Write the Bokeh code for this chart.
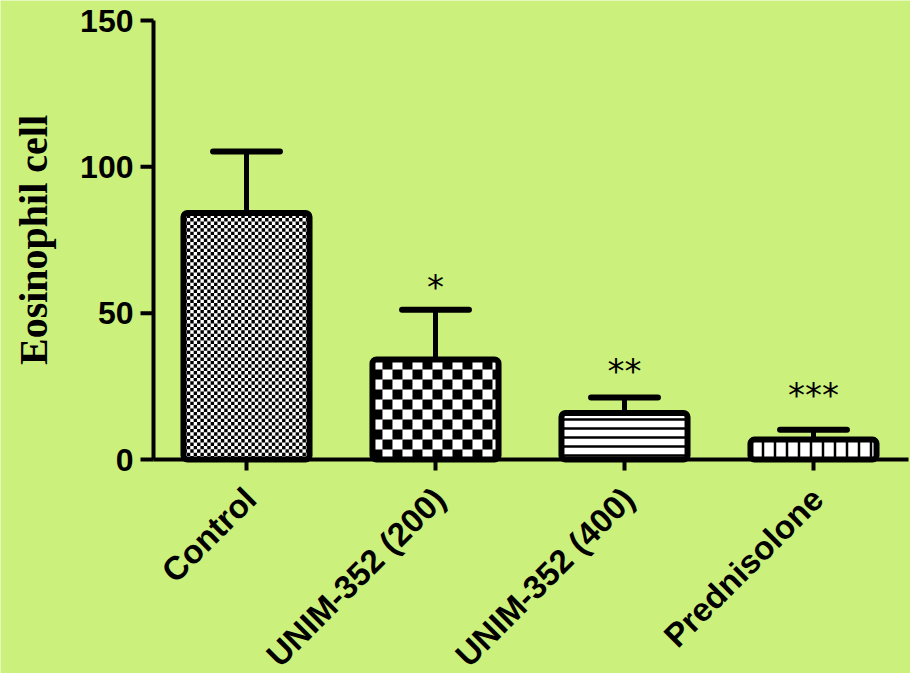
import math
from bokeh.plotting import figure
from bokeh.models import Range1d, LabelSet, ColumnDataSource
from bokeh.core.properties import value
from bokeh.embed import file_html
from bokeh.resources import INLINE

# ---- data ----
groups = ["Control", "UNIM-352 (200)", "UNIM-352 (400)", "Prednisolone"]
means = [84.2, 34.2, 15.9, 6.8]
errors = [21.0, 17.0, 5.3, 3.4]
star_labels = ["", "*", "**", "***"]
star_y = [0, 58.8, 30.4, 22.2]
y_ticks = [0, 50, 100, 150]
y_label = "Eosinophil cell"

BG = "#CCF07C"

# ---- layout (pixels of the 910x673 canvas) ----
FIG_W, FIG_H = 910, 673
AXIS_X_PX = 153        # y axis line column
AXIS_Y_PX = 459        # x axis line row (value 0)
TOP_PX = 20            # row of the top value
X_END_PX = 908         # right end of x axis line
FIRST_CAT_PX = 246     # centre of first category
CAT_STEP_PX = 189      # distance between categories
Y_TOP = 150

px_x = CAT_STEP_PX
px_y = (AXIS_Y_PX - TOP_PX) / Y_TOP
X0 = -FIRST_CAT_PX / px_x
X1 = X0 + FIG_W / px_x
Y1 = AXIS_Y_PX / px_y
Y0 = Y1 - FIG_H / px_y


def dx(px):
    return X0 + px / px_x


def dy_len(px):
    return px / px_y


p = figure(width=FIG_W, height=FIG_H, output_backend="svg", toolbar_location=None,
           x_range=Range1d(X0, X1), y_range=Range1d(Y0, Y1),
           min_border=0, background_fill_color=BG, border_fill_color=BG,
           outline_line_color=None)
p.grid.visible = False
p.xaxis.visible = False
p.yaxis.visible = False

xs = list(range(len(groups)))
tops = [m + e for m, e in zip(means, errors)]
BAR_W = 0.667
cap = 0.177

# error bars (behind bars)
p.segment(x0=xs, y0=means, x1=xs, y1=tops, line_color="black", line_width=5)
p.segment(x0=[x - cap for x in xs], y0=tops, x1=[x + cap for x in xs], y1=tops,
          line_color="black", line_width=6, line_cap="round")

# white bar bodies
p.vbar(x=xs, top=means, bottom=0, width=BAR_W, fill_color="white", line_color=None)

# fill patterns: checker cells (px size) or line hatches
patterns = [("checker", 3.4), ("checker", 10.0), ("horizontal_line", 9), ("vertical_line", 12)]

L, R, B, T = [], [], [], []
for i, x in enumerate(xs):
    kind, size = patterns[i]
    if kind != "checker":
        p.vbar(x=[x], top=[means[i]], bottom=0, width=BAR_W, fill_color="white",
               line_color=None, hatch_pattern=kind, hatch_scale=size,
               hatch_weight=2.5, hatch_color="black")
        continue
    left = x - BAR_W / 2
    right = x + BAR_W / 2
    cx = size / px_x
    cy = size / px_y
    ix = 0
    while left + ix * cx < right:
        iy = 0
        while iy * cy < means[i]:
            if (ix + iy) % 2 == 0:
                L.append(left + ix * cx)
                R.append(min(left + (ix + 1) * cx, right))
                B.append(iy * cy)
                T.append(min((iy + 1) * cy, means[i]))
            iy += 1
        ix += 1
p.quad(left=L, right=R, bottom=B, top=T, fill_color="black", line_color=None)

# bar outlines
p.vbar(x=xs, top=means, bottom=0, width=BAR_W, fill_color=None,
       line_color="black", line_width=6, line_join="round", border_radius=4)

# significance stars
sx = [x for x, s in zip(xs, star_labels) if s]
sy = [y for y, s in zip(star_y, star_labels) if s]
st = [s for s in star_labels if s]
p.text(x=sx, y=sy, text=st, text_font=value("DejaVu Sans"), text_font_size="34px",
       text_align="center", text_baseline="middle", text_color="black")

# ---- y axis ----
ax = dx(AXIS_X_PX)
p.segment(x0=[ax], y0=[0], x1=[ax], y1=[Y_TOP], line_color="black", line_width=4)
p.segment(x0=[ax] * len(y_ticks), y0=y_ticks, x1=[dx(AXIS_X_PX - 13)] * len(y_ticks),
          y1=y_ticks, line_color="black", line_width=4)
p.text(x=[dx(AXIS_X_PX - 13 - 7)] * len(y_ticks), y=y_ticks,
       text=[str(t) for t in y_ticks], text_font=value("Liberation Sans"),
       text_font_style="bold", text_font_size="32px", text_align="right",
       text_baseline="middle", text_color="black")
p.text(x=[dx(33)], y=[Y_TOP / 2], text=[y_label], angle=math.pi / 2,
       text_font=value("Liberation Serif"), text_font_style="bold",
       text_font_size="40px", text_align="center", text_baseline="middle",
       text_color="black")

# ---- x axis ----
p.segment(x0=[ax], y0=[0], x1=[dx(X_END_PX)], y1=[0], line_color="black", line_width=4)
p.segment(x0=xs, y0=[0] * len(xs), x1=xs, y1=[-dy_len(11)] * len(xs),
          line_color="black", line_width=4)

lab_src = ColumnDataSource(dict(x=xs, y=[0] * len(xs), text=groups))
labels = LabelSet(x="x", y="y", text="text", source=lab_src, angle=math.pi / 4,
                  x_offset=12, y_offset=-42, text_align="right",
                  text_baseline="alphabetic", text_font=value("Liberation Sans"),
                  text_font_style="bold", text_font_size=value("33px"),
                  text_color="black")
p.add_layout(labels)

open("out.html", "w").write(file_html(p, INLINE))
